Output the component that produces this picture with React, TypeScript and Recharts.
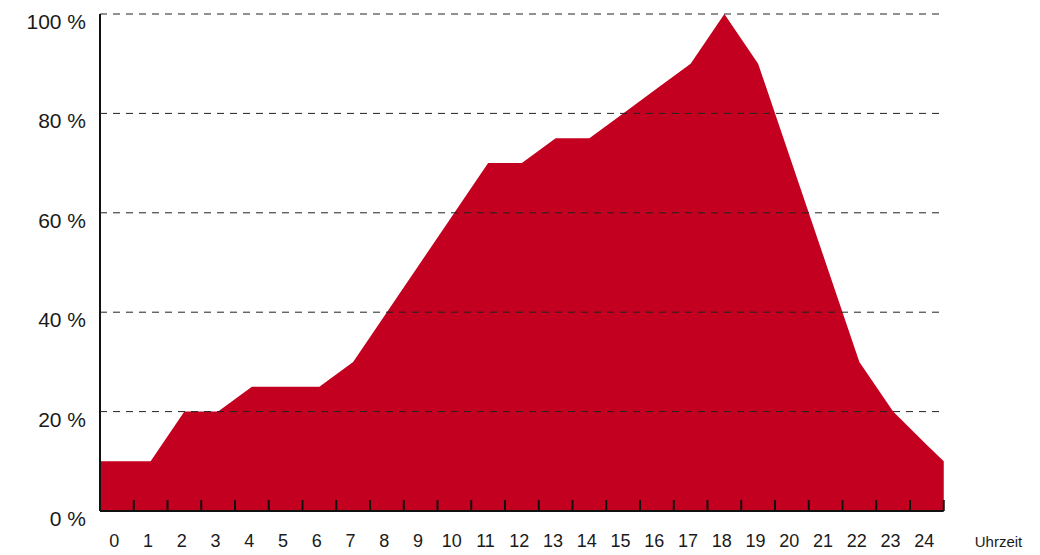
import React from 'react';
import { AreaChart, Area, XAxis, YAxis } from 'recharts';

// Stunden (Beschriftung der Achse) und Auslastung in % je Stunde
const hours = [0, 1, 2, 3, 4, 5, 6, 7, 8, 9, 10, 11, 12, 13, 14, 15, 16, 17, 18, 19, 20, 21, 22, 23, 24];
const share = [10, 10, 20, 20, 25, 25, 25, 30, 40, 50, 60, 70, 70, 75, 75, 80, 85, 90, 100, 90, 70, 50, 30, 20, 13.3];
// Werte an den Rändern der Achse
const startShare = 10;
const endShare = 10;
const yTicks = [0, 20, 40, 60, 80, 100];
const xTicks = [...hours, 25];

const W = 1040;
const H = 555;
const margin = { top: 14, right: 96.25, left: 40, bottom: 0 };
const yAxisW = 60;
const yTickGap = 14;
const plotW = W - margin.left - yAxisW - margin.right;
const halfStep = plotW / xTicks.length / 2 + 0.5;

const data = [
  { x: 0, v: startShare },
  ...hours.map((h, i) => ({ x: h + 0.5, v: share[i] })),
  { x: 25, v: endShare },
];

const HourTick = (props: any) => {
  const { x, y, payload } = props;
  const h = payload.value;
  return (
    <g>
      <line x1={x} x2={x} y1={y - 11} y2={y} stroke="#111" strokeWidth={2} />
      {h < 25 && (
        <text x={x + halfStep - 2.5} y={y + 36} textAnchor="middle" fontSize={18} fill="#1a1a1a">
          {h}
        </text>
      )}
    </g>
  );
};

// Prozent-Beschriftung plus gestrichelte Rasterlinie, die über der Fläche liegt
const PercentTick = (props: any) => {
  const { x, y, payload } = props;
  const v = payload.value;
  const x0 = x + yTickGap;
  return (
    <g>
      {v > 0 && (
        <line x1={x0} x2={x0 + plotW} y1={y} y2={y} stroke="#222" strokeWidth={1} strokeDasharray="7 6" />
      )}
      <text x={x} y={y + 15} textAnchor="end" fontSize={21} fill="#1a1a1a">
        {`${v} %`}
      </text>
    </g>
  );
};

export default function App() {
  return (
    <div style={{ position: 'absolute', left: 0, top: 0, fontFamily: '"Liberation Sans", Arial, sans-serif' }}>
      <AreaChart width={W} height={H} data={data} margin={margin}>
        <Area
          type="linear"
          dataKey="v"
          fill="#c3001f"
          fillOpacity={1}
          stroke="none"
          isAnimationActive={false}
          dot={false}
          activeDot={false}
        />
        <XAxis
          type="number"
          dataKey="x"
          domain={[0, 25]}
          ticks={xTicks}
          interval={0}
          height={44}
          tickSize={0}
          tickMargin={0}
          tickLine={false}
          axisLine={{ stroke: '#111', strokeWidth: 2 }}
          tick={<HourTick />}
          label={{
            content: ({ viewBox }: any) => (
              <text x={viewBox.x + viewBox.width + 31} y={viewBox.y + 36} fontSize={15} fill="#1a1a1a">
                Uhrzeit
              </text>
            ),
          }}
        />
        <YAxis
          width={yAxisW}
          domain={[0, 100]}
          ticks={yTicks}
          interval={0}
          tickSize={0}
          tickMargin={yTickGap}
          tickLine={false}
          axisLine={{ stroke: '#111', strokeWidth: 2 }}
          tick={<PercentTick />}
        />
      </AreaChart>
    </div>
  );
}
